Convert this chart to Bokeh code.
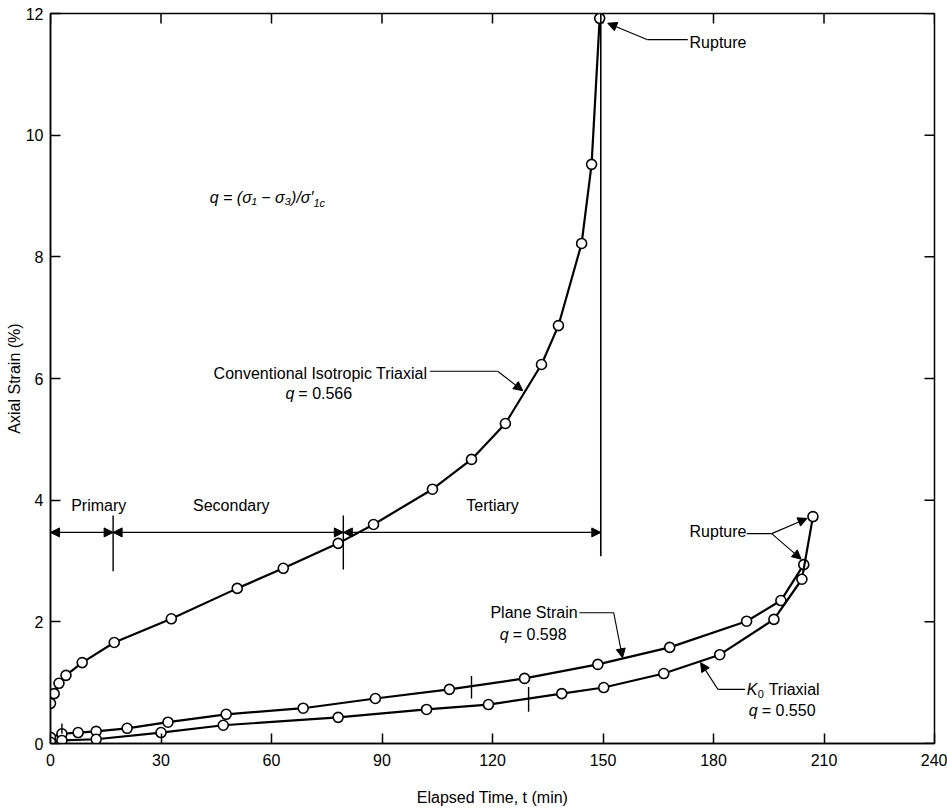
from bokeh.plotting import figure
from bokeh.models import FixedTicker, Range1d, Label, Arrow, NormalHead
from bokeh.embed import file_html
from bokeh.resources import INLINE

# ---------------- data ----------------
conv_t = [0, 1.0, 2.3, 4.2, 8.6, 17.3, 32.8, 50.7, 63.2, 78.1, 87.7, 103.7, 114.3,
          123.5, 133.3, 137.9, 144.2, 146.9, 149.1]
conv_e = [0.66, 0.82, 0.99, 1.12, 1.33, 1.66, 2.05, 2.55, 2.88, 3.29, 3.60, 4.18, 4.67,
          5.26, 6.23, 6.87, 8.22, 9.52, 11.92]

ps_t = [0, 3.1, 7.5, 12.4, 20.8, 31.9, 47.7, 68.6, 88.2, 108.3, 128.7, 148.6, 168.1,
        189.0, 198.3, 204.5]
ps_e = [0.10, 0.16, 0.18, 0.20, 0.25, 0.35, 0.48, 0.58, 0.74, 0.89, 1.07, 1.30, 1.58,
        2.01, 2.35, 2.94]

k0_t = [0, 3.1, 12.4, 30.0, 46.9, 78.1, 102.1, 118.9, 138.8, 150.2, 166.5, 181.7,
        196.4, 204.0, 207.0]
k0_e = [0.02, 0.05, 0.07, 0.18, 0.30, 0.43, 0.56, 0.64, 0.82, 0.92, 1.15, 1.46,
        2.04, 2.70, 3.73]

x_ticks = [0, 30, 60, 90, 120, 150, 180, 210, 240]
y_ticks = [0, 2, 4, 6, 8, 10, 12]
X_MAX = 240
Y_MAX = 12

stage_names = ["Primary", "Secondary", "Tertiary"]
stage_bounds = [0, 17.0, 79.5, 149.4]     # min
stage_level = 3.47                         # % strain of the dimension line
stage_label_t = [5.6, 38.7, 112.9]
stage_label_e = 3.91
stage_marker_lo = [2.83, 2.86]
stage_marker_hi = [3.75, 3.75]

rupture_line_t = 149.4
rupture_line_lo = 3.08

ps_marks_t = [3.1, 114.3]
ps_marks_lo = [0.16, 0.74]
ps_marks_hi = [0.33, 1.11]
k0_marks_t = [129.8]
k0_marks_lo = [0.52]
k0_marks_hi = [0.93]

FONT = "Liberation Sans"
FS = "16px"
W, H = 947, 809
BL, BR, BT, BB = 50, 13, 13, 66
TICK = 10  # px

p = figure(width=W, height=H, output_backend="svg", toolbar_location=None,
           x_range=Range1d(0, X_MAX), y_range=Range1d(0, Y_MAX),
           min_border_left=BL, min_border_right=BR, min_border_top=BT,
           min_border_bottom=BB)
p.grid.visible = False
p.background_fill_color = "white"
p.border_fill_color = "white"
p.outline_line_color = "black"
p.outline_line_width = 1.5

for ax in (p.xaxis[0], p.yaxis[0]):
    ax.major_tick_in = TICK
    ax.major_tick_out = 0
    ax.minor_tick_line_color = None
    ax.axis_line_color = "black"
    ax.axis_line_width = 1.5
    ax.major_tick_line_width = 1.5
    ax.major_label_text_font = FONT
    ax.major_label_text_font_size = FS
    ax.major_label_text_color = "black"
    ax.axis_label_text_font = FONT
    ax.axis_label_text_font_size = FS
    ax.axis_label_text_font_style = "normal"
    ax.axis_label_text_color = "black"

p.xaxis[0].ticker = FixedTicker(ticks=x_ticks)
p.yaxis[0].ticker = FixedTicker(ticks=y_ticks)
p.xaxis[0].axis_label = "Elapsed Time, t (min)"
p.yaxis[0].axis_label = "Axial Strain (%)"
p.xaxis[0].major_label_standoff = 10
p.xaxis[0].axis_label_standoff = 20
p.yaxis[0].major_label_standoff = 7
p.yaxis[0].axis_label_standoff = 0

# mirrored inward ticks on the top and right frame edges
dx_tick = TICK * X_MAX / (W - BL - BR)
dy_tick = TICK * Y_MAX / (H - BT - BB)
p.segment(x0=x_ticks, y0=[Y_MAX] * len(x_ticks), x1=x_ticks,
          y1=[Y_MAX - dy_tick] * len(x_ticks), line_color="black", line_width=1.5)
p.segment(x0=[X_MAX] * len(y_ticks), y0=y_ticks, x1=[X_MAX - dx_tick] * len(y_ticks),
          y1=y_ticks, line_color="black", line_width=1.5)

# ---------------- curves ----------------
for t, e in ((conv_t, conv_e), (ps_t, ps_e), (k0_t, k0_e)):
    p.line(t, e, line_color="black", line_width=2.2)
    p.scatter(t, e, size=10, marker="circle", fill_color="white",
              line_color="black", line_width=1.6)

# rupture vertical line
p.segment(x0=[rupture_line_t], y0=[rupture_line_lo], x1=[rupture_line_t], y1=[Y_MAX],
          line_color="black", line_width=1.6)

# stage boundary markers
p.segment(x0=stage_bounds[1:3], y0=stage_marker_lo, x1=stage_bounds[1:3],
          y1=stage_marker_hi, line_color="black", line_width=1.4)
p.segment(x0=ps_marks_t, y0=ps_marks_lo, x1=ps_marks_t, y1=ps_marks_hi,
          line_color="black", line_width=1.4)
p.segment(x0=k0_marks_t, y0=k0_marks_lo, x1=k0_marks_t, y1=k0_marks_hi,
          line_color="black", line_width=1.4)


def head():
    return NormalHead(size=9, fill_color="black", line_color="black", line_width=1)


# dimension arrows for stages
for a, b in zip(stage_bounds[:-1], stage_bounds[1:]):
    p.add_layout(Arrow(x_start=a, y_start=stage_level, x_end=b, y_end=stage_level,
                       start=head(), end=head(), line_color="black", line_width=1.1))


def lbl(x, y, text, align="left", style="normal", size=FS, xo=0, yo=0, baseline="middle"):
    p.add_layout(Label(x=x, y=y, text=text, text_align=align, text_baseline=baseline,
                       text_font=FONT, text_font_size=size, text_font_style=style,
                       text_color="black", x_offset=xo, y_offset=yo))


for name, tx in zip(stage_names, stage_label_t):
    lbl(tx, stage_label_e, name)


def leader(xs, ys):
    p.line(xs[:-1], ys[:-1], line_color="black", line_width=1.1)
    p.add_layout(Arrow(x_start=xs[-2], y_start=ys[-2], x_end=xs[-1], y_end=ys[-1],
                       end=head(), line_color="black", line_width=1.1))


# top rupture annotation
leader([173.0, 162.1, 151.3], [11.57, 11.57, 11.84])
lbl(173.5, 11.52, "Rupture")

# conventional isotropic triaxial
lbl(102.3, 6.08, "Conventional Isotropic Triaxial", align="right")
leader([103.0, 121.4, 128.2], [6.12, 6.12, 5.80])
lbl(66.2, 5.75, "q", align="right", style="italic")
lbl(66.2, 5.75, "= 0.566", xo=4)

# plane strain
lbl(143.1, 2.15, "Plane Strain", align="right")
leader([143.6, 152.9, 155.3], [2.15, 2.15, 1.41])
lbl(124.4, 1.79, "q", align="right", style="italic")
lbl(124.4, 1.79, "= 0.598", xo=4)

# K0 triaxial
lbl(189.0, 0.89, "K", style="italic")
lbl(189.0, 0.89, "0", size="11px", xo=11, yo=-5)
lbl(189.0, 0.89, "Triaxial", xo=22)
leader([188.6, 181.2, 176.5], [0.89, 0.89, 1.33])
lbl(192.0, 0.54, "q", align="right", style="italic")
lbl(192.0, 0.54, "= 0.550", xo=4)

# lower rupture annotation (two arrows)
lbl(173.5, 3.49, "Rupture")
p.line([189.0, 195.8], [3.45, 3.45], line_color="black", line_width=1.1)
p.add_layout(Arrow(x_start=195.8, y_start=3.45, x_end=205.4, y_end=3.70, end=head(),
                   line_color="black", line_width=1.1))
p.add_layout(Arrow(x_start=195.8, y_start=3.45, x_end=203.8, y_end=3.03, end=head(),
                   line_color="black", line_width=1.1))

# definition of q
lbl(71.4, 8.98, "q = (σ₁ − σ₃)/σ′", align="right", style="italic")
lbl(71.4, 8.98, "1c", size="11px", style="italic", yo=-6)

open("out.html", "w").write(file_html(p, INLINE))
